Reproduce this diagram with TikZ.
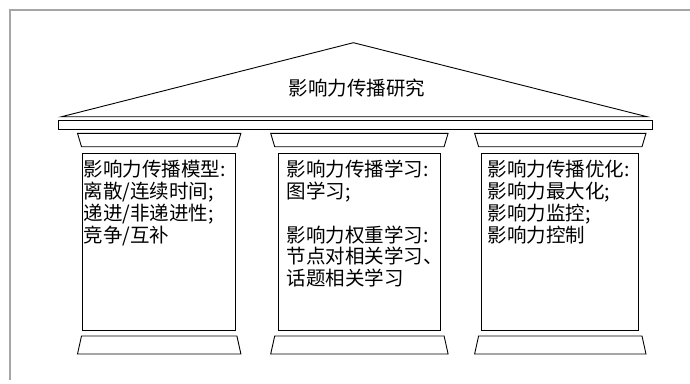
\documentclass[tikz,border=0pt]{standalone}
\usepackage{fontspec}
\newfontfamily\cjk{Noto Sans CJK SC}
\usetikzlibrary{calc}
\tikzstyle{grayframe}=[draw=black!35,line width=2pt]
\tikzstyle{outline}=[draw,line width=0.9pt]
\tikzstyle{pillar}=[rectangle,draw,line width=0.9pt,minimum height=176.7pt,inner sep=0pt]
\tikzstyle{pillartext}=[font=\cjk\fontsize{19.5}{21.8}\selectfont,inner sep=0pt,align=left,anchor=north west]
\tikzstyle{rooftext}=[font=\cjk\fontsize{19.5}{21.8}\selectfont,inner sep=0pt,anchor=base]

\begin{document}
\begin{tikzpicture}[x=1pt,y=-1pt]

    \useasboundingbox (0,0) rectangle (690,383);
    \path[grayframe] (690,10) -- (10,10) -- (10,380);

    % roof and beam
    \path[outline] (61.6,116.7) -- (353.4,42.7) -- (647,116.7) -- cycle;
    \path[outline] (58,120.7) rectangle (652.7,129.3);
    \node[rooftext] (roof) at (357,95) {影响力传播研究};

    % pillars: capital, shaft, base
    \foreach \name/\cx/\w/\bw in {model/159.2/81.7/153.2, learn/359.4/88.7/161.6, optim/560.3/85.7/157.1}
    {
        \path[outline] (\cx-\w,133.3) -- (\cx+\w,133.3) -- (\cx+\w-4,146.7) -- (\cx-\w+4,146.7) -- cycle;
        \node[pillar,minimum width=\bw pt] (\name) at (\cx,241.7) {};
        \path[outline] (\cx-\w+4,336) -- (\cx+\w-4,336) -- (\cx+\w,354) -- (\cx-\w,354) -- cycle;
    }

    \node[pillartext] (modeltext) at (83.6,160) {影响力传播模型:\\离散/连续时间;\\递进/非递进性;\\竞争/互补};
    \node[pillartext] (learntext) at (286.5,160) {影响力传播学习:\\图学习;\\[21.8pt]影响力权重学习:\\节点对相关学习、\\话题相关学习};
    \node[pillartext] (optimtext) at (487.7,160) {影响力传播优化:\\影响力最大化;\\影响力监控;\\影响力控制};

\end{tikzpicture}
\end{document}
